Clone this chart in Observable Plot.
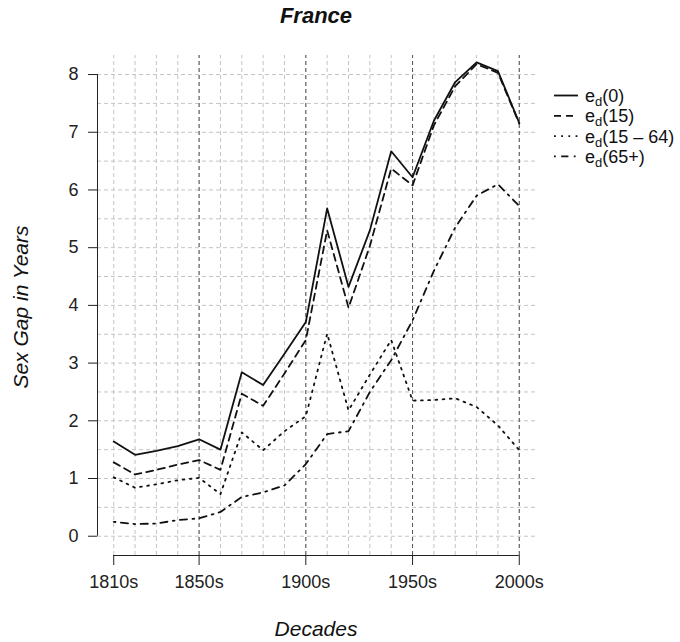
<!DOCTYPE html>
<html><head><meta charset="utf-8">
<script src="https://cdn.jsdelivr.net/npm/d3@7"></script>
<script src="https://cdn.jsdelivr.net/npm/@observablehq/plot@0.6"></script>
<style>
body{margin:0;background:#fff;font-family:"Liberation Sans",Arial,Helvetica,sans-serif;}
#wrap{position:relative;width:680px;height:642px;}
#wrap svg{position:absolute;left:0;top:0;}
</style></head>
<body><div id="wrap"></div>
<script>
const decades = [1810,1820,1830,1840,1850,1860,1870,1880,1890,1900,1910,1920,1930,1940,1950,1960,1970,1980,1990,2000];
const e0    = [1.64,1.41,1.48,1.56,1.68,1.50,2.84,2.62,3.16,3.71,5.68,4.32,5.30,6.67,6.22,7.20,7.87,8.21,8.06,7.16];
const e15   = [1.28,1.07,1.15,1.24,1.32,1.15,2.47,2.26,2.82,3.40,5.30,3.96,5.03,6.37,6.08,7.12,7.80,8.18,8.03,7.15];
const e1564 = [1.02,0.84,0.90,0.97,1.01,0.73,1.80,1.49,1.82,2.08,3.51,2.18,2.80,3.40,2.35,2.36,2.39,2.24,1.92,1.49];
const e65   = [0.25,0.21,0.22,0.28,0.31,0.42,0.68,0.76,0.88,1.25,1.77,1.82,2.50,3.05,3.74,4.60,5.35,5.90,6.10,5.72];
const seriesNames = ["0","15","15 – 64","65+"];
const seriesValues = [e0,e15,e1564,e65];
const dashes = [null,"7,5","1.8,5.4","1.8,5.4,7.2,5.4"];
const xTicks = [1810,1850,1900,1950,2000];
const majorGrid = [1850,1900,1950,2000];
const yTicks = [0,1,2,3,4,5,6,7,8];
const yGrid = d3.range(0,8.01,0.5);

const xDom=[1802.4,2007.6], yDom=[-0.334,8.33];
const font='"Liberation Sans",Arial,Helvetica,sans-serif';

const rows = [];
seriesValues.forEach((vals,s)=>vals.forEach((v,i)=>rows.push({series:s,decade:decades[i],value:v})));

const lineMarks = seriesValues.map((vals,s)=>Plot.line(rows.filter(r=>r.series===s),{
  x:"decade",y:"value",stroke:"#111",strokeWidth:1.8,strokeDasharray:dashes[s]||undefined}));

const chart = Plot.plot({
  width:680,height:642,marginLeft:97,marginRight:145,marginTop:55,marginBottom:87,
  x:{domain:xDom},y:{domain:yDom},
  style:{fontFamily:font,fontSize:"18px",color:"#222",background:"white",overflow:"visible"},
  marks:[
    Plot.ruleX(decades,{y1:yDom[0],y2:yDom[1],stroke:"#c4c4c4",strokeDasharray:"4,3"}),
    Plot.ruleY(yGrid,{x1:xDom[0],x2:xDom[1],stroke:"#c4c4c4",strokeDasharray:"4,3"}),
    Plot.ruleX(majorGrid,{y1:yDom[0],y2:yDom[1],stroke:"#555",strokeDasharray:"4,3"}),
    ...lineMarks,
    Plot.ruleX([xDom[0]],{y1:yTicks[0],y2:yTicks[yTicks.length-1],stroke:"#222"}),
    Plot.ruleY([yDom[0]],{x1:xTicks[0],x2:xTicks[xTicks.length-1],stroke:"#222"}),
    Plot.axisY({ticks:yTicks,tickSize:9,tickPadding:10,label:null,fontSize:18,stroke:"#222"}),
    Plot.axisX({ticks:xTicks,tickFormat:d=>d+"s",tickSize:10,tickPadding:10,label:null,fontSize:18,stroke:"#222"})
  ]
});
const wrap=document.getElementById("wrap");
wrap.appendChild(chart);

// overlay text: title, axis labels, legend
const ov=d3.select(wrap).append("svg").attr("width",680).attr("height",642)
  .style("font-family",font).style("pointer-events","none");
ov.append("text").attr("x",316).attr("y",23).attr("text-anchor","middle")
  .attr("font-size",22).attr("font-weight","bold").attr("font-style","italic").attr("fill","#111").text("France");
ov.append("text").attr("x",316).attr("y",636).attr("text-anchor","middle")
  .attr("font-size",21).attr("font-style","italic").attr("fill","#111").text("Decades");
ov.append("text").attr("transform","translate(27.5,307) rotate(-90)").attr("text-anchor","middle")
  .attr("font-size",21).attr("font-style","italic").attr("fill","#111").text("Sex Gap in Years");

const lg=ov.append("g");
seriesNames.forEach((name,i)=>{
  const y=95.5+i*20.3;
  lg.append("line").attr("x1",554).attr("x2",578).attr("y1",y).attr("y2",y)
    .attr("stroke","#111").attr("stroke-width",1.8).attr("stroke-dasharray",dashes[i]);
  const t=lg.append("text").attr("x",585).attr("y",y+6.5).attr("font-size",18).attr("fill","#111");
  t.append("tspan").text("e");
  t.append("tspan").attr("font-size",13).attr("dy",4).text("d");
  t.append("tspan").attr("dy",-4).text("("+name+")");
});
</script></body></html>
